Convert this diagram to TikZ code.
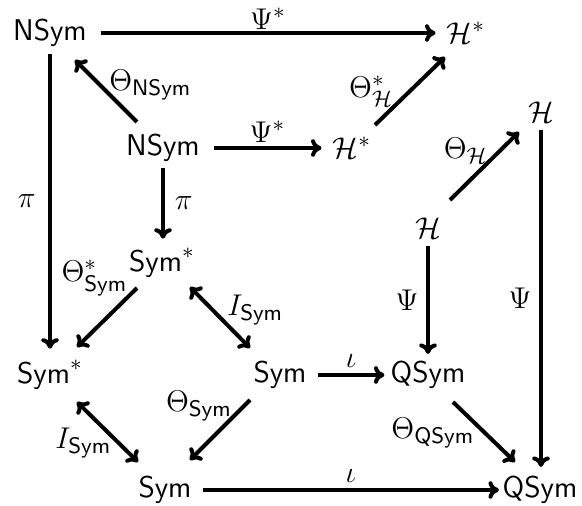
\documentclass[tikz,border=0pt]{standalone}
\usepackage{amsmath}
\usetikzlibrary{positioning,arrows.meta}
\begin{document}
\begin{tikzpicture}[x=0.4pt,y=-0.4pt,
  obj/.style={inner sep=1.5pt,outer sep=0pt,font=\fontsize{13}{15}\selectfont},
  lab/.style={font=\fontsize{12.5}{14}\selectfont,inner sep=1pt},
  arr/.style={line width=1.6pt,-{Computer Modern Rightarrow[length=4.2pt,width=7pt]}},
  darr/.style={line width=1.6pt,{Computer Modern Rightarrow[length=4.2pt,width=7pt]}-{Computer Modern Rightarrow[length=4.2pt,width=7pt]}}]
\useasboundingbox (0,0) rectangle (582,506);
\node[obj] (nt) at (50,33) {$\mathsf{NSym}$};
\node[obj] (ht) at (466,33) {$\mathcal{H}^*$};
\node[obj] (ni) at (163,148) {$\mathsf{NSym}$};
\node[obj] (hi) at (352,148) {$\mathcal{H}^*$};
\node[obj] (hr) at (541,112) {$\mathcal{H}$};
\node[obj] (hm) at (428,228) {$\mathcal{H}$};
\node[obj] (sm) at (162,263) {$\mathsf{Sym}^*$};
\node[obj] (sl) at (50,375) {$\mathsf{Sym}^*$};
\node[obj] (sr) at (280,375) {$\mathsf{Sym}$};
\node[obj] (qm) at (428,375) {$\mathsf{QSym}$};
\node[obj] (sb) at (165,490) {$\mathsf{Sym}$};
\node[obj] (qb) at (540,490) {$\mathsf{QSym}$};

% horizontal
\draw[arr] ([xshift=4]nt.east) -- ([xshift=-3]ht.west) node[lab,midway,above=-0.5pt] {$\Psi^*$};
\draw[arr] ([xshift=4]ni.east) -- ([xshift=-3]hi.west) node[lab,midway,above=0.5pt] {$\Psi^*$};
\draw[arr] ([xshift=3]sr.east) -- ([xshift=-1]qm.west) node[lab,midway,above=1pt] {$\iota$};
\draw[arr] ([xshift=3]sb.east) -- (qb.west) node[lab,midway,above=1pt] {$\iota$};
% vertical
\draw[arr] ([shift={(0,4)}]nt.south) -- ([shift={(0,-8)}]sl.north) node[lab,pos=0.5,left=4pt] {$\pi$};
\draw[arr] ([shift={(0,3)}]ni.south) -- ([shift={(0,-6)}]ni.south |- sm.north) node[lab,midway,right=3pt] {$\pi$};
\draw[arr] ([shift={(0,4)}]hm.south) -- ([shift={(0,-4)}]qm.north) node[lab,midway,left=2pt] {$\Psi$};
\draw[arr] ([shift={(0,4)}]hr.south) -- ([shift={(0,-6)}]qb.north -| hr.south) node[lab,pos=0.5,left=2pt] {$\Psi$};
% diagonals
\draw[arr] ([shift={(-26,-26)}]ni.center) -- ([shift={(25,27)}]nt.center) node[lab,pos=0.6,right=2pt] {$\Theta_{\mathsf{NSym}}$};
\draw[arr] ([shift={(23,-23)}]hi.center) -- ([shift={(-21,24)}]ht.center) node[lab,pos=0.5,left=5pt] {$\Theta^*_{\mathcal{H}}$};
\draw[arr] ([shift={(22,-28)}]hm.center) -- ([shift={(-22,20)}]hr.center) node[lab,pos=0.72,left=3pt] {$\Theta_{\mathcal{H}}$};
\draw[arr] ([shift={(-25,25)}]sm.center) -- ([shift={(27,-28)}]sl.center) node[lab,pos=0,anchor=south east,shift={(-5,12)}] {$\Theta^*_{\mathsf{Sym}}$};
\draw[darr] ([shift={(28,24)}]sm.center) -- ([shift={(-30,-27)}]sr.center) node[lab,pos=0.38,right=4pt] {$I_{\mathsf{Sym}}$};
\draw[arr] ([shift={(-30,25)}]sr.center) -- ([shift={(25,-30)}]sb.center) node[lab,pos=0.1,left=3pt] {$\Theta_{\mathsf{Sym}}$};
\draw[darr] ([shift={(27,27)}]sl.center) -- ([shift={(-27,-28)}]sb.center) node[lab,pos=0.68,left=1pt] {$I_{\mathsf{Sym}}$};
\draw[arr] ([shift={(25,27)}]qm.center) -- ([shift={(-25,-28)}]qb.center) node[lab,pos=0.52,left=2.5pt] {$\Theta_{\mathsf{QSym}}$};
\end{tikzpicture}
\end{document}
